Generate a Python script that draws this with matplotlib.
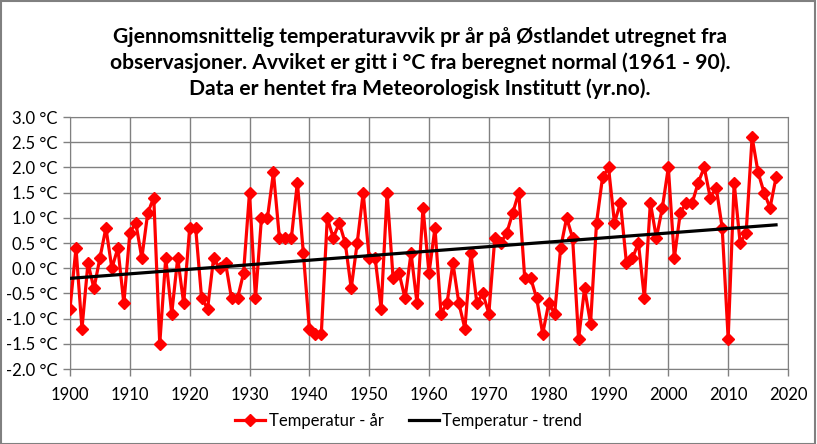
import numpy as np
import matplotlib
matplotlib.use('Agg')
import matplotlib.pyplot as plt
from matplotlib.patches import Rectangle
from matplotlib.ticker import FuncFormatter

plt.rcParams['font.family'] = ['Lato', 'DejaVu Sans']

# temperaturavvik pr aar (grader C fra normal 1961-90)
aar = list(range(1900, 2019))
avvik = [
    -0.8, 0.4, -1.2, 0.1, -0.4, 0.2, 0.8, 0.0, 0.4, -0.7,   # 1900-1909
    0.7, 0.9, 0.2, 1.1, 1.4, -1.5, 0.2, -0.9, 0.2, -0.7,    # 1910-1919
    0.8, 0.8, -0.6, -0.8, 0.2, 0.0, 0.1, -0.6, -0.6, -0.1,  # 1920-1929
    1.5, -0.6, 1.0, 1.0, 1.9, 0.6, 0.6, 0.6, 1.7, 0.3,      # 1930-1939
    -1.2, -1.3, -1.3, 1.0, 0.6, 0.9, 0.5, -0.4, 0.5, 1.5,   # 1940-1949
    0.2, 0.2, -0.8, 1.5, -0.2, -0.1, -0.6, 0.3, -0.7, 1.2,  # 1950-1959
    -0.1, 0.8, -0.9, -0.7, 0.1, -0.7, -1.2, 0.3, -0.7, -0.5,  # 1960-1969
    -0.9, 0.6, 0.5, 0.7, 1.1, 1.5, -0.2, -0.2, -0.6, -1.3,  # 1970-1979
    -0.7, -0.9, 0.4, 1.0, 0.6, -1.4, -0.4, -1.1, 0.9, 1.8,  # 1980-1989
    2.0, 0.9, 1.3, 0.1, 0.2, 0.5, -0.6, 1.3, 0.6, 1.2,      # 1990-1999
    2.0, 0.2, 1.1, 1.3, 1.3, 1.7, 2.0, 1.4, 1.6, 0.8,       # 2000-2009
    -1.4, 1.7, 0.5, 0.7, 2.6, 1.9, 1.5, 1.2, 1.8,           # 2010-2018
]

x = np.array(aar)
y = np.array(avvik)
k, m = np.polyfit(x, y, 1)
trend = k * x + m

fig = plt.figure(figsize=(8.17, 4.44), dpi=100)
ax = fig.add_axes([70 / 817, 75 / 444, 718 / 817, 252 / 444])

ax.plot(x, y, color='#ff0000', lw=2.3, marker='D', markersize=6,
        label='Temperatur - år', zorder=3)
ax.plot(x, trend, color='black', lw=2.3, label='Temperatur - trend', zorder=4)

ax.set_xlim(1900, 2020)
ax.set_ylim(-2.0, 3.0)
ax.set_xticks(range(1900, 2021, 10))
ax.set_yticks(np.arange(-2.0, 3.01, 0.5))
ax.yaxis.set_major_formatter(FuncFormatter(lambda v, p: f'{v:.1f} °C'))
ax.grid(True, color='#808080', lw=1)
ax.set_axisbelow(True)
for s in ax.spines.values():
    s.set_color('#808080')
ax.tick_params(colors='#808080', labelcolor='black', labelsize=12,
               length=5, width=1)
ax.tick_params(axis='x', pad=8)
ax.tick_params(axis='y', pad=4)

fig.text(0.514, 0.94, 'Gjennomsnittelig temperaturavvik pr år på Østlandet utregnet fra\n'
         'observasjoner. Avviket er gitt i °C fra beregnet normal (1961 - 90).\n'
         'Data er hentet fra Meteorologisk Institutt (yr.no).',
         ha='center', va='top', fontsize=15.2, fontweight='bold', linespacing=1.33)

fig.legend(loc='center', bbox_to_anchor=(0.50, 0.052), ncol=2, frameon=False,
           fontsize=12, handlelength=1.8, columnspacing=1.5, handletextpad=0.2)

fig.patches.append(Rectangle((0.001, 0.001), 0.997, 0.997, transform=fig.transFigure,
                             fill=False, edgecolor='#808080', lw=1.5))

fig.savefig('out.png', dpi=100)
